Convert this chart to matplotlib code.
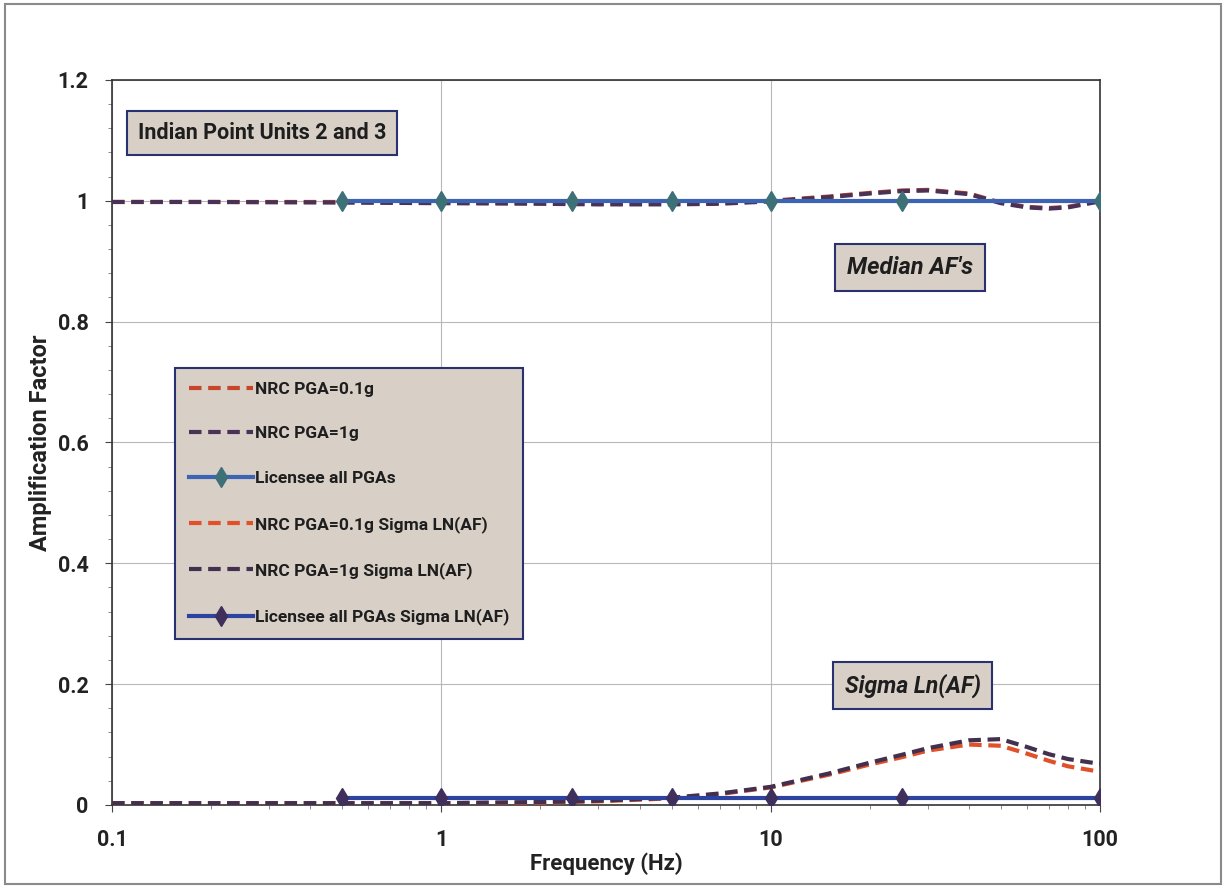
import matplotlib
matplotlib.use("Agg")
import matplotlib.pyplot as plt
from matplotlib.patches import Rectangle
from matplotlib.ticker import FixedLocator, MultipleLocator, NullFormatter

plt.rcParams['font.family'] = ['Roboto', 'DejaVu Sans']
plt.rcParams['font.weight'] = 'bold'

# NRC curves
freq_nrc = [0.1, 0.2, 0.5, 1, 2, 3, 5, 7, 10, 15, 20, 25, 30, 40, 50, 60, 70, 80, 100]
median_01g = [0.998, 0.998, 0.998, 0.997, 0.996, 0.995, 0.995, 0.996, 1.0, 1.007, 1.013, 1.017, 1.018, 1.012, 0.997, 0.99, 0.988, 0.99, 1.0]
median_1g = [0.998, 0.998, 0.997, 0.996, 0.995, 0.994, 0.994, 0.995, 0.999, 1.006, 1.012, 1.016, 1.017, 1.011, 0.996, 0.989, 0.987, 0.989, 0.999]
sigma_01g = [0.003, 0.003, 0.003, 0.003, 0.004, 0.006, 0.011, 0.018, 0.029, 0.05, 0.067, 0.079, 0.09, 0.1, 0.098, 0.085, 0.073, 0.064, 0.055]
sigma_1g = [0.003, 0.003, 0.003, 0.003, 0.005, 0.007, 0.012, 0.019, 0.03, 0.052, 0.07, 0.083, 0.094, 0.107, 0.109, 0.096, 0.084, 0.076, 0.068]

# Licensee curves
freq_lic = [0.5, 1, 2.5, 5, 10, 25, 100]
median_lic = [1.0, 1.0, 1.0, 1.0, 1.0, 1.0, 1.0]
sigma_lic = [0.012, 0.012, 0.012, 0.012, 0.012, 0.012, 0.012]

fig = plt.figure(figsize=(12.26, 8.88), dpi=100)
fig.patches.append(Rectangle((0.004, 0.005), 0.992, 0.99, transform=fig.transFigure,
                             fill=False, edgecolor='#8a8a8a', linewidth=1.5))
ax = fig.add_axes([0.0914, 0.0935, 0.8058, 0.8165])

dash = (3, 1.6)
ax.plot(freq_nrc, median_01g, '--', color='#c8452c', lw=3, dashes=dash, label='NRC PGA=0.1g', zorder=3)
ax.plot(freq_nrc, median_1g, '--', color='#4a3257', lw=3, dashes=dash, label='NRC PGA=1g', zorder=3)
ax.plot(freq_lic, median_lic, '-', color='#3c64b4', lw=3, marker='d', ms=10,
        mfc='#3e7077', mec='#3e7077', label='Licensee all PGAs', zorder=4)
ax.plot(freq_nrc, sigma_01g, '--', color='#e0512a', lw=3, dashes=dash, label='NRC PGA=0.1g Sigma LN(AF)', zorder=3)
ax.plot(freq_nrc, sigma_1g, '--', color='#43304f', lw=3, dashes=dash, label='NRC PGA=1g Sigma LN(AF)', zorder=3)
ax.plot(freq_lic, sigma_lic, '-', color='#2c44a0', lw=3, marker='d', ms=10,
        mfc='#3f2f5c', mec='#3f2f5c', label='Licensee all PGAs Sigma LN(AF)', zorder=4)

ax.set_xscale('log')
ax.set_xlim(0.1, 100)
ax.set_ylim(0, 1.2)
ax.xaxis.set_major_locator(FixedLocator([0.1, 1, 10, 100]))
ax.set_xticklabels(['0.1', '1', '10', '100'])
ax.xaxis.set_minor_formatter(NullFormatter())
ax.yaxis.set_minor_locator(MultipleLocator(0.04))
ax.set_yticks([0, 0.2, 0.4, 0.6, 0.8, 1.0, 1.2])
ax.set_yticklabels(['0', '0.2', '0.4', '0.6', '0.8', '1', '1.2'])
ax.tick_params(axis='both', which='major', labelsize=15.5, length=5, color='#444444', pad=12)
ax.tick_params(axis='both', which='minor', length=3, color='#777777')
for lbl in ax.get_xticklabels() + ax.get_yticklabels():
    lbl.set_fontweight('bold')
    lbl.set_color('#222222')
ax.grid(True, which='major', color='#b8b8b8', lw=0.8)
for s in ax.spines.values():
    s.set_color('#333333')
    s.set_linewidth(1.2)

ax.set_xlabel('Frequency (Hz)', fontsize=16, fontweight='bold', color='#222222', labelpad=1)
ax.set_ylabel('Amplification Factor', fontsize=17, fontweight='bold', color='#222222', labelpad=4)

leg = ax.legend(loc='upper left', bbox_to_anchor=(0.064, 0.603), fontsize=12.5, frameon=True,
                fancybox=False, handlelength=3.7, handletextpad=0.1, labelspacing=1.7,
                borderpad=0.8, borderaxespad=0)
leg.get_frame().set_facecolor('#d8cfc7')
leg.get_frame().set_edgecolor('#2a3170')
leg.get_frame().set_linewidth(1.5)
leg.get_frame().set_alpha(1)
for t in leg.get_texts():
    t.set_fontweight('bold')
    t.set_color('#1e1e1e')

box = dict(boxstyle='square,pad=0.5', facecolor='#d8cfc7', edgecolor='#2a3170', linewidth=1.5)
ax.text(0.026, 1.112, 'Indian Point Units 2 and 3', transform=ax.get_yaxis_transform(),
        fontsize=15.5, fontweight='bold', color='#1e1e1e', va='center', ha='left', bbox=box)
ax.text(26.5, 0.89, "Median AF's", fontsize=17, fontweight='bold', style='italic',
        color='#1e1e1e', va='center', ha='center', bbox=box)
ax.text(27, 0.198, 'Sigma Ln(AF)', fontsize=16.5, fontweight='bold', style='italic',
        color='#1e1e1e', va='center', ha='center', bbox=box)

fig.savefig('out.png', dpi=100)
